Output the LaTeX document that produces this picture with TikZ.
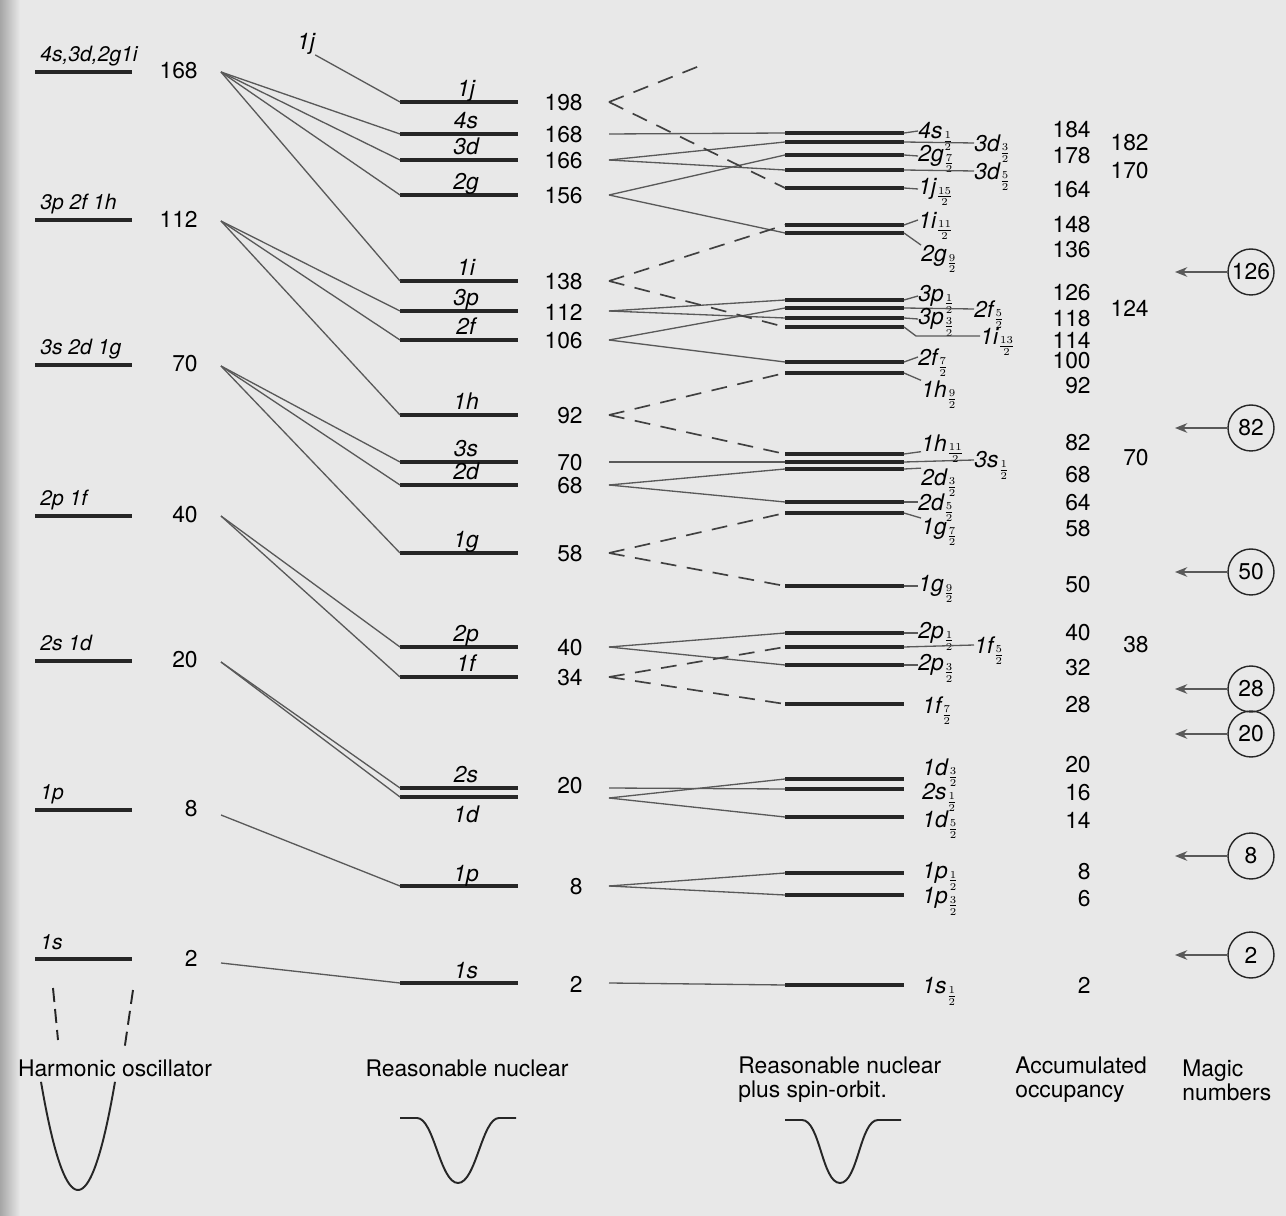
\documentclass[tikz,border=0pt]{standalone}
\usepackage{fontspec}
\setmainfont{TeX Gyre Heros}
\usepackage{amsmath}
\usetikzlibrary{arrows.meta}

\tikzset{
  level/.style={line width=2pt, black!85},
  link/.style={line width=0.75pt, black!65},
  intruder/.style={line width=0.95pt, black!75, dash pattern=on 9pt off 6pt},
  well/.style={line width=1.1pt, black!85},
  orb/.style={font=\fontsize{13}{15}\selectfont\itshape, inner sep=0pt},
  num/.style={font=\fontsize{13}{15}\selectfont, inner sep=0pt},
  magic/.style={circle, draw=black!85, line width=0.8pt, minimum size=0.92cm, inner sep=0pt, font=\fontsize{13}{15}\selectfont},
  caption/.style={font=\fontsize{13}{13.6}\selectfont, align=left, inner sep=0pt},
}
\newcommand{\hj}[1]{\smash{\ensuremath{{}_{\frac{#1}{2}}}}}

\begin{document}
\begin{tikzpicture}[x=0.02cm, y=-0.02cm]
  \useasboundingbox (0,0) rectangle (1286,1216);
  \fill[black!9] (0,0) rectangle (1286,1216);
  \shade[left color=black!35, right color=black!9] (0,0) rectangle (20,1216);

  % harmonic oscillator shells
  \foreach \y/\lab/\n/\oy in {72/{4s,3d,2g1i}/168/0, 220/{3p 2f 1h}/112/1, 365/{3s 2d 1g}/70/1,
      516/{2p 1f}/40/0, 661/{2s 1d}/20/1, 810/1p/8/5, 959/1s/2/4}{
    \draw[level] (35,\y) -- (132,\y);
    \node[orb, anchor=base west, font=\fontsize{12}{14}\selectfont\itshape] (ho\n) at (40,\y-10) {\lab};
    \node[num, anchor=east] (nho\n) at (198,\y-1) {\n};
    \coordinate (o\n) at (221,\y+\oy);
  }

  % reasonable nuclear potential
  \foreach \y/\lab/\nm/\n in {102/1j/j/198, 134/4s/s4/168, 160/3d/d3/166, 195/2g/g2/156,
      281/1i/i1/138, 311/3p/p3/112, 340/2f/f2/106, 415/1h/h1/92, 462/3s/s3/70,
      485/2d/d2/68, 553/1g/g1/58, 647/2p/p2/40, 677/1f/f1/34, 886/1p/p1/8, 983/1s/s1/2}{
    \draw[level] (400,\y) coordinate (L\nm) -- (518,\y);
    \node[orb, anchor=base] (t\nm) at (466,\y-5) {\lab};
    \node[num, anchor=east] (n\nm) at (583,\y+1) {\n};
    \coordinate (R\nm) at (609,\y);
  }
  \draw[level] (400,788) coordinate (Ls2) -- (518,788);
  \draw[level] (400,797) coordinate (Ld1) -- (518,797);
  \node[orb, anchor=base] (ts2) at (466,783) {2s};
  \node[orb] (td1) at (466,814) {1d};
  \node[num, anchor=east] (ns2) at (583,786) {20};
  \coordinate (Rs2) at (609,788);
  \coordinate (Rd1) at (609,798);

  \node[orb] (tj7) at (306,44) {1j};
  \draw[link] (tj7.south east) -- (Lj);

  \foreach \a/\b in {168/s4, 168/d3, 168/g2, 168/i1, 112/p3, 112/f2, 112/h1, 70/s3, 70/d2,
      70/g1, 40/p2, 40/f1, 20/s2, 20/d1, 8/p1, 2/s1}
    \draw[link] (o\a) -- (L\b);

  % plus spin-orbit
  \foreach \y/\nm in {133/4s1, 142/3d3, 155/2g7, 170/3d5, 188/1j15, 225/1i11, 233/2g9,
      300/3p1, 308/2f5, 318/3p3, 327/1i13, 362/2f7, 373/1h9, 454/1h11, 462/3s1, 469/2d3,
      502/2d5, 513/1g7, 586/1g9, 633/2p1, 647/1f5, 665/2p3, 704/1f7, 779/1d3, 789/2s1,
      817/1d5, 873/1p1, 895/1p3, 985/1s1}
    \draw[level] (785,\y) coordinate (S\nm) -- (904,\y) coordinate (E\nm);

  \foreach \a/\b in {s4/4s1, d3/3d3, d3/3d5, g2/2g7, g2/2g9, p3/3p1, p3/3p3, f2/2f5, f2/2f7,
      s3/3s1, d2/2d3, d2/2d5, p2/2p1, p2/2p3, s2/2s1, d1/1d3, d1/1d5, p1/1p1, p1/1p3, s1/1s1}
    \draw[link] (R\a) -- (S\b);
  \foreach \a/\b in {j/1j15, i1/1i11, i1/1i13, h1/1h9, h1/1h11, g1/1g7, g1/1g9, f1/1f5, f1/1f7}
    \draw[intruder] (R\a) -- (S\b);
  \coordinate (j17) at (702,65);
  \draw[intruder] (Rj) -- (j17);

  % level labels
  \foreach \nm/\lab/\x/\ty in {4s1/{4s\hj1}/918/131, 3d3/{3d\hj3}/974/143, 2g7/{2g\hj7}/918/156,
      3d5/{3d\hj5}/974/171, 1j15/{1j\hj{15}}/918/189, 1i11/{1i\hj{11}}/918/220,
      3p1/{3p\hj1}/918/296, 2f5/{2f\hj5}/974/309, 3p3/{3p\hj3}/918/319, 2f7/{2f\hj7}/918/357,
      3s1/{3s\hj1}/974/460, 2d5/{2d\hj5}/918/502, 1g9/{1g\hj9}/918/586, 2p1/{2p\hj1}/918/633,
      1f5/{1f\hj5}/974/645, 2p3/{2p\hj3}/918/665}{
    \node[orb, anchor=west] (l\nm) at (\x,\ty) {\lab};
    \draw[link] (E\nm) -- (l\nm.west);
  }
  \foreach \nm/\lab/\ty in {2g9/{2g\hj9}/256, 1h9/{1h\hj9}/389, 2d3/{2d\hj3}/477, 1g7/{1g\hj7}/529}{
    \node[orb, anchor=west] (l\nm) at (921,\ty) {\lab};
    \draw[link] (E\nm) -- (l\nm.north west);
  }
  \node[orb, anchor=west] (l1h11) at (921,443) {1h\hj{11}};
  \draw[link] (E1h11) -- (l1h11.south west);
  \node[orb, anchor=west] (l1i13) at (980,336) {1i\hj{13}};
  \draw[link] (E1i13) -- (916,336) -- (l1i13.west);
  \foreach \nm/\lab/\ty in {1f7/{1f\hj7}/705, 1d3/{1d\hj3}/767, 2s1/{2s\hj1}/792,
      1d5/{1d\hj5}/819, 1p1/{1p\hj1}/873, 1p3/{1p\hj3}/898, 1s1/{1s\hj1}/986}
    \node[orb, anchor=west] (l\nm) at (922,\ty) {\lab};

  % accumulated occupancy
  \foreach \y/\n in {130/184, 156/178, 190/164, 225/148, 250/136, 293/126, 319/118, 340/114,
      361/100, 386/92, 443/82, 475/68, 503/64, 529/58, 585/50, 633/40, 668/32, 705/28,
      765/20, 793/16, 820/14, 872/8, 899/6, 985/2}
    \node[num, anchor=east] (acc\n) at (1091,\y) {\n};
  \foreach \y/\n in {143/182, 171/170, 308/124, 458/70, 645/38}
    \node[num, anchor=east] (sub\n) at (1149,\y) {\n};

  % magic numbers
  \foreach \y/\n in {272/126, 428/82, 572/50, 689/28, 734/20, 856/8, 955/2}{
    \node[magic] (m\n) at (1251,\y) {\n};
    \coordinate (a\n) at (1175,\y);
    \draw[link, -{Stealth[length=7pt,width=5.5pt]}] (m\n) -- (a\n);
  }

  % potentials and captions
  \draw[well, dash pattern=on 8pt off 4pt] (53,988) -- (58,1040);
  \draw[well, dash pattern=on 8pt off 4pt] (133,990) -- (124,1052);
  \draw[well] plot[domain=-37:37, samples=40] ({78+\x},{1190-0.079*\x*\x});
  \draw[well] (400,1118) -- (417,1118) .. controls (434,1118) and (440,1183) .. (458,1183)
    .. controls (476,1183) and (482,1118) .. (499,1118) -- (516,1118);
  \draw[well] (785,1120) -- (802,1120) .. controls (820,1120) and (822,1183) .. (840,1183)
    .. controls (858,1183) and (860,1120) .. (878,1120) -- (901,1120);

  \node[caption] (cho) at (115,1068) {Harmonic oscillator};
  \node[caption] (crn) at (467,1068) {Reasonable nuclear};
  \node[caption, anchor=west] (cso) at (738,1080) {Reasonable nuclear\\plus spin-orbit.};
  \node[caption, anchor=west] (cacc) at (1015,1080) {Accumulated\\occupancy};
  \node[caption, anchor=west] (cmag) at (1182,1080) {Magic\\numbers};
\end{tikzpicture}
\end{document}
